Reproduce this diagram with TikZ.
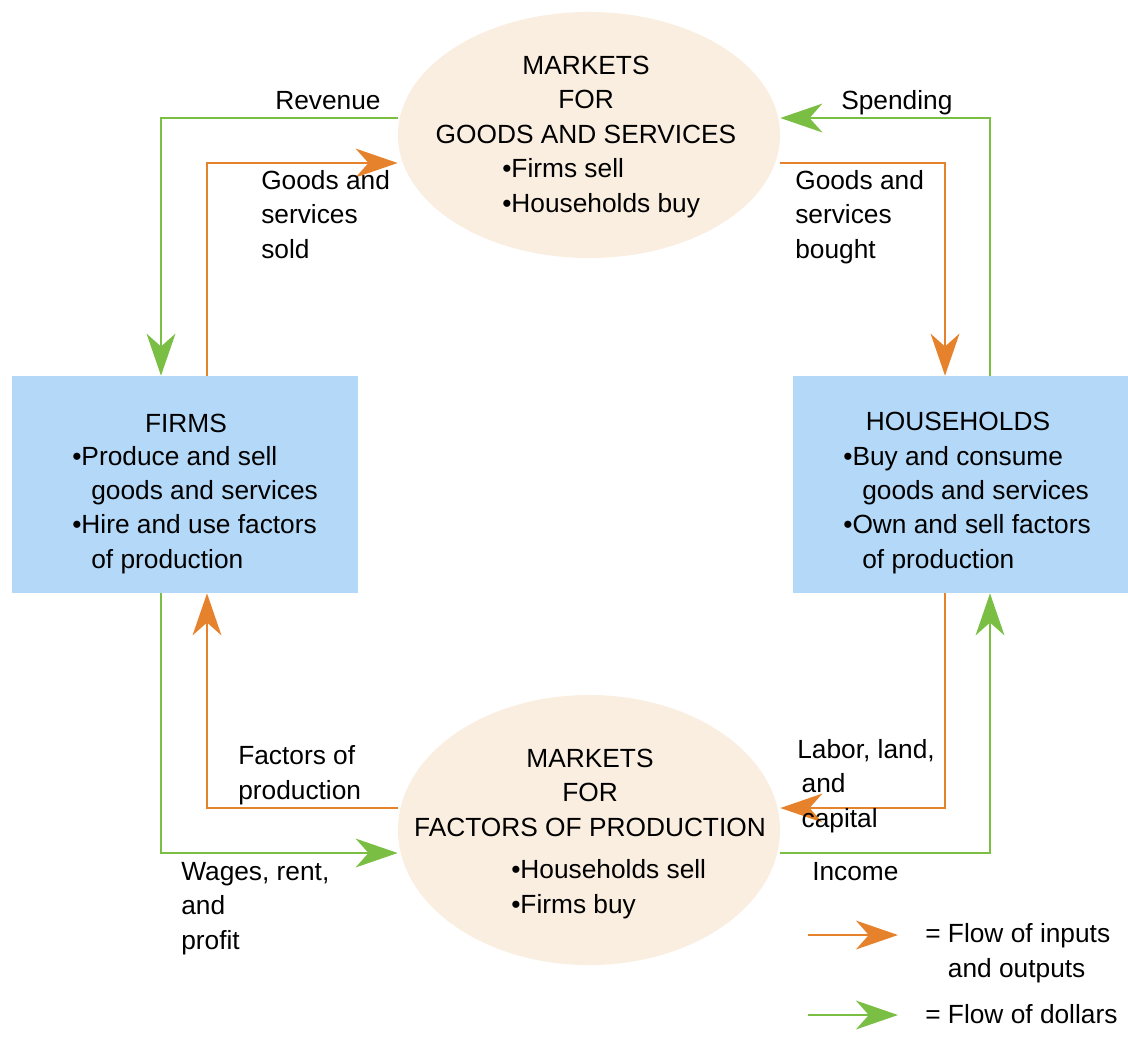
\documentclass[tikz,border=0pt]{standalone}
\usepackage{fontspec}
\setmainfont{Liberation Sans}
\usetikzlibrary{shapes.geometric, arrows.meta}
\definecolor{mktfill}{RGB}{250,238,224}
\definecolor{boxfill}{RGB}{179,216,248}
\definecolor{flowor}{RGB}{229,130,43}
\definecolor{flowgr}{RGB}{122,190,67}
\newcommand{\fsz}{\fontsize{18.7}{24.2}\selectfont}
\newcommand{\ind}{\hspace*{0.475cm}}

\begin{document}
\begin{tikzpicture}[x=0.025cm, y=-0.025cm, font=\fsz,
    market/.style={ellipse, fill=mktfill, minimum width=9.55cm},
    agent/.style={rectangle, fill=boxfill, minimum width=8.65cm, minimum height=5.425cm},
    lbl/.style={inner sep=0pt, anchor=base west, align=left},
    inputs/.style={flowor, line width=1.5pt, -{Stealth[length=1.05cm, width=0.72cm, inset=0.32cm]}},
    dollars/.style={inputs, flowgr}]
  \useasboundingbox (0,0) rectangle (1128,1053);

  % markets and agents
  \node[market, minimum height=6.15cm] (mg) at (589,135) {};
  \node[market, minimum height=6.75cm] (mf) at (589,830) {};
  \node[agent] (firms) at (185,484.5) {};
  \node[agent, minimum width=8.375cm] (hh) at (960.5,484.5) {};

  % multi-line labels sit on the baseline of their last line
  \node[align=center, inner sep=0pt, anchor=base] (mgT) at (586,143) {MARKETS\\FOR\\GOODS AND SERVICES};
  \node[lbl] (mgB) at (502,212) {•Firms sell\\•Households buy};
  \node[align=center, inner sep=0pt, anchor=base] (mfT) at (590,836) {MARKETS\\FOR\\FACTORS OF PRODUCTION};
  \node[lbl] (mfB) at (511,913) {•Households sell\\•Firms buy};
  \node[inner sep=0pt, anchor=base] (firmsT) at (186,432) {FIRMS};
  \node[lbl] (firmsB) at (72,568) {•Produce and sell\\\ind goods and services\\•Hire and use factors\\\ind of production};
  \node[inner sep=0pt, anchor=base] (hhT) at (958,430) {HOUSEHOLDS};
  \node[lbl] (hhB) at (843,568) {•Buy and consume\\\ind goods and services\\•Own and sell factors\\\ind of production};

  % columns and rows of the flows
  \coordinate (colA) at (161,0);
  \coordinate (colB) at (207,0);
  \coordinate (colC) at (945,0);
  \coordinate (colD) at (990,0);
  \coordinate (rowA) at (0,118);
  \coordinate (rowB) at (0,163);
  \coordinate (rowC) at (0,808);
  \coordinate (rowD) at (0,853);

  \draw[dollars] (mg.west |- rowA) -| (firms.north -| colA);
  \draw[inputs] (firms.north -| colB) |- (mg.west |- rowB);
  \draw[inputs] (mg.east |- rowB) -| (hh.north -| colC);
  \draw[dollars] (hh.north -| colD) |- (mg.east |- rowA);
  \draw[inputs] (hh.south -| colC) |- (mf.east |- rowC);
  \draw[dollars] (mf.east |- rowD) -| (hh.south -| colD);
  \draw[inputs] (mf.west |- rowC) -| (firms.south -| colB);
  \draw[dollars] (firms.south -| colA) |- (mf.west |- rowD);

  \node[lbl] (rev) at (275,109) {Revenue};
  \node[lbl] (sold) at (261,258) {Goods and\\services\\sold};
  \node[lbl] (spend) at (841,109) {Spending};
  \node[lbl] (bought) at (795,258) {Goods and\\services\\bought};
  \node[lbl] (fop) at (238,799) {Factors of\\production};
  \node[lbl] (wages) at (181,949) {Wages, rent,\\and\\profit};
  \node[lbl] (labor) at (797,827) {Labor, land,\\\,and\\\,capital};
  \node[lbl] (income) at (812,880) {Income};

  % key
  \coordinate (keyA1) at (808,935);
  \coordinate (keyA2) at (898,935);
  \coordinate (keyB1) at (808,1015);
  \coordinate (keyB2) at (898,1015);
  \draw[inputs] (keyA1) -- (keyA2);
  \draw[dollars] (keyB1) -- (keyB2);
  \node[lbl] (keyA) at (925,977) {= Flow of inputs\\\phantom{=~}and outputs};
  \node[lbl] (keyB) at (925,1023) {= Flow of dollars};
\end{tikzpicture}
\end{document}
